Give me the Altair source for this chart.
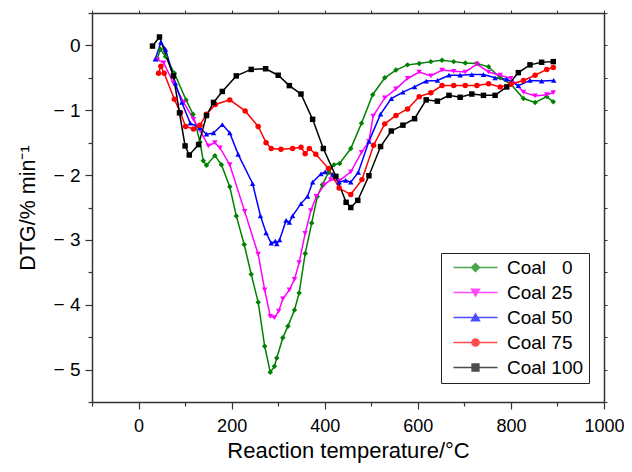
import altair as alt
import pandas as pd

# ---------------- data ----------------
series_names = ["Coal \u20070", "Coal 25", "Coal 50", "Coal 75", "Coal 100"]
series_colors = ["#008000", "#ff00ff", "#0000ff", "#ff0000", "#000000"]
series_shapes = ["diamond", "triangle-down", "triangle-up", "circle", "square"]

t_coal0 = [40, 47, 58, 77, 102, 117, 132, 139, 146, 164, 178, 196, 210, 227, 242, 257, 271, 283, 292,
           297, 310, 321, 335, 345, 358, 372, 384, 395, 408, 420, 432, 456, 479, 503, 529, 553, 578,
           603, 628, 652, 677, 702, 727, 752, 777, 800, 827, 852, 877, 891]
v_coal0 = [-0.21, -0.06, -0.17, -0.43, -0.84, -1.06, -1.49, -1.78, -1.85, -1.70, -1.84, -2.18, -2.63,
           -3.07, -3.53, -3.96, -4.64, -5.04, -4.95, -4.82, -4.51, -4.33, -4.08, -3.82, -3.21, -2.74,
           -2.33, -2.15, -1.96, -1.84, -1.82, -1.59, -1.20, -0.76, -0.50, -0.38, -0.30, -0.28, -0.25,
           -0.23, -0.25, -0.27, -0.28, -0.33, -0.50, -0.60, -0.82, -0.88, -0.79, -0.87]

t_coal25 = [40, 54, 75, 97, 118, 132, 150, 164, 175, 196, 228, 257, 271, 283, 292, 301, 310, 324, 335,
            345, 358, 370, 382, 399, 413, 431, 456, 479, 495, 504, 529, 553, 578, 603, 628, 652, 677,
            702, 727, 752, 777, 800, 827, 852, 877, 891]
v_coal25 = [-0.22, -0.27, -0.58, -0.88, -1.14, -1.31, -1.55, -1.50, -1.58, -1.84, -2.56, -3.22, -3.77,
            -4.18, -4.20, -4.10, -3.91, -3.77, -3.61, -3.35, -2.90, -2.55, -2.33, -2.15, -2.07, -2.09,
            -1.95, -1.65, -1.48, -1.09, -0.81, -0.67, -0.51, -0.41, -0.47, -0.38, -0.40, -0.41, -0.29,
            -0.41, -0.46, -0.51, -0.72, -0.78, -0.76, -0.73]

t_coal50 = [36, 48, 58, 79, 93, 111, 132, 146, 161, 180, 196, 214, 245, 262, 274, 285, 294, 297, 303,
            317, 324, 331, 349, 363, 374, 392, 401, 417, 431, 445, 456, 472, 495, 520, 543, 568, 593,
            618, 642, 667, 691, 716, 741, 766, 791, 816, 841, 866, 892]
v_coal50 = [-0.21, 0.05, -0.06, -0.58, -0.88, -1.20, -1.27, -1.37, -1.35, -1.22, -1.35, -1.68, -2.13,
            -2.63, -2.89, -3.05, -3.02, -3.06, -3.00, -2.70, -2.73, -2.63, -2.44, -2.33, -2.11, -1.98,
            -1.95, -1.99, -2.11, -2.08, -2.11, -1.96, -1.48, -1.06, -0.82, -0.72, -0.64, -0.55, -0.54,
            -0.46, -0.46, -0.45, -0.45, -0.50, -0.52, -0.62, -0.54, -0.55, -0.54]

t_coal75 = [43, 48, 55, 77, 90, 101, 118, 132, 146, 165, 196, 229, 257, 274, 285, 306, 331, 349, 358,
            367, 381, 408, 431, 456, 480, 505, 529, 553, 578, 603, 628, 652, 677, 702, 727, 752, 777,
            800, 827, 852, 877, 891]
v_coal75 = [-0.43, -0.32, -0.43, -0.83, -1.04, -1.25, -1.29, -1.23, -1.06, -0.91, -0.84, -1.01, -1.25,
            -1.50, -1.59, -1.60, -1.59, -1.57, -1.67, -1.59, -1.68, -1.90, -2.20, -2.30, -2.07, -1.54,
            -1.21, -1.08, -0.98, -0.79, -0.73, -0.62, -0.62, -0.62, -0.62, -0.59, -0.64, -0.60, -0.54,
            -0.46, -0.37, -0.34]

t_coal100 = [30, 45, 75, 88, 100, 109, 129, 146, 161, 180, 210, 242, 273, 300, 324, 349, 374, 397, 424,
             446, 456, 471, 495, 520, 543, 568, 593, 618, 642, 667, 691, 716, 741, 766, 791, 816, 841,
             866, 891]
v_coal100 = [-0.01, 0.13, -0.47, -1.04, -1.55, -1.69, -1.53, -1.08, -0.88, -0.71, -0.47, -0.37, -0.36,
             -0.46, -0.62, -0.75, -1.14, -1.59, -2.02, -2.42, -2.50, -2.39, -2.01, -1.56, -1.32, -1.23,
             -1.13, -0.84, -0.86, -0.77, -0.80, -0.75, -0.77, -0.77, -0.64, -0.42, -0.30, -0.26, -0.25]

x_ticks = list(range(-100, 1001, 100))
y_ticks = [-5.5, -5, -4.5, -4, -3.5, -3, -2.5, -2, -1.5, -1, -0.5, 0, 0.5]

# ---------------- build table ----------------
all_t = [t_coal0, t_coal25, t_coal50, t_coal75, t_coal100]
all_v = [v_coal0, v_coal25, v_coal50, v_coal75, v_coal100]
rows = []
for name, ts, vs in zip(series_names, all_t, all_v):
    for t, v in zip(ts, vs):
        rows.append({"series": name, "T": t, "DTG": v})
df = pd.DataFrame(rows)

FONT = "Liberation Sans"
AX = "#333333"
x_scale = alt.Scale(domain=[-100, 1000], nice=False, zero=False)
y_scale = alt.Scale(domain=[-5.5, 0.5], nice=False, zero=False)
color_scale = alt.Scale(domain=series_names, range=series_colors)

x_axis = alt.Axis(
    values=x_ticks, title="Reaction temperature/°C", grid=False,
    labelExpr="datum.value % 200 === 0 ? datum.value : ''", format="d",
    tickSize={"condition": {"test": "datum.value % 200 === 0", "value": 7}, "value": 4},
    labelPadding=8, titlePadding=5, labelFontSize=18, titleFontSize=22,
    labelFont=FONT, titleFont=FONT, titleFontWeight="normal",
    labelColor="black", titleColor="black", domainColor=AX, tickColor=AX,
    domainWidth=1.5, tickWidth=1.2, labelFlush=False, labelOverlap=False,
)
y_axis = alt.Axis(
    values=y_ticks, title="DTG/% min⁻¹", grid=False,
    labelExpr="datum.value === 0 ? '0' : (datum.value % 1 === 0 ? '− ' + abs(datum.value) : '')",
    tickSize={"condition": {"test": "datum.value % 1 === 0", "value": 7}, "value": 4},
    labelPadding=5, titlePadding=14, labelFontSize=19, titleFontSize=21.5,
    labelFont=FONT, titleFont=FONT, titleFontWeight="normal",
    labelColor="black", titleColor="black", domainColor=AX, tickColor=AX,
    domainWidth=1.5, tickWidth=1.2, labelFlush=False, labelOverlap=False,
)
x_axis_top = alt.Axis(orient="top", values=x_ticks, labels=False, title=None, grid=False,
                      tickSize=3, domainColor=AX, tickColor=AX, domainWidth=1.5)
y_axis_right = alt.Axis(orient="right", values=y_ticks, labels=False, title=None, grid=False,
                        tickSize=3, domainColor=AX, tickColor=AX, domainWidth=1.5)

base = alt.Chart(df)

lines = base.mark_line(strokeWidth=1.5).encode(
    x=alt.X("T:Q", scale=x_scale, axis=x_axis),
    y=alt.Y("DTG:Q", scale=y_scale, axis=y_axis),
    color=alt.Color("series:N", scale=color_scale, legend=None),
    detail="series:N",
)

mirror = base.mark_line(strokeWidth=1.5, opacity=0).encode(
    x=alt.X("T:Q", scale=x_scale, axis=x_axis_top),
    y=alt.Y("DTG:Q", scale=y_scale, axis=y_axis_right),
    detail="series:N",
)

points = base.mark_point(filled=True, opacity=1, size=30).encode(
    x=alt.X("T:Q", scale=x_scale, axis=None),
    y=alt.Y("DTG:Q", scale=y_scale, axis=None),
    color=alt.Color("series:N", scale=color_scale, legend=None),
    shape=alt.Shape("series:N", scale=alt.Scale(domain=series_names, range=series_shapes), legend=None),
)

legend_paths = [
    "M-5.5,0H5.5M0,-1L1,0L0,1L-1,0Z",
    "M-5.5,0H5.5M-1,-0.8L1,-0.8L0,0.9Z",
    "M-5.5,0H5.5M-1,0.8L1,0.8L0,-0.9Z",
    "M-5.5,0H5.5M0.9,0A0.9,0.9 0 1,1 -0.9,0A0.9,0.9 0 1,1 0.9,0Z",
    "M-5.5,0H5.5M-0.85,-0.85H0.85V0.85H-0.85Z",
]
leg = alt.Legend(
    title=None, orient="none", legendX=349, legendY=240,
    labelFont=FONT, labelFontSize=19, labelColor="black",
    strokeColor="#222222", padding=5, rowPadding=5,
    symbolSize=64, symbolStrokeWidth=1.5, symbolOffset=20, labelOffset=22,
    fillColor="white",
)
legend_layer = base.transform_filter("false").mark_point(filled=True).encode(
    x=alt.X("T:Q", scale=x_scale, axis=None),
    y=alt.Y("DTG:Q", scale=y_scale, axis=None),
    color=alt.Color("series:N", scale=color_scale, legend=leg),
    stroke=alt.Stroke("series:N", scale=color_scale, legend=leg),
    shape=alt.Shape("series:N", scale=alt.Scale(domain=series_names, range=legend_paths), legend=leg),
)

chart = alt.layer(lines, mirror, points, legend_layer).resolve_scale(
    shape="independent", color="independent", stroke="independent"
).resolve_axis(
    x="independent", y="independent"
).properties(
    width=512, height=389, autosize="none",
    padding={"left": 84, "top": 5, "right": 20, "bottom": 62},
).configure_view(stroke=None)

chart.save("out.html", embed_options={"renderer": "svg", "actions": False})
